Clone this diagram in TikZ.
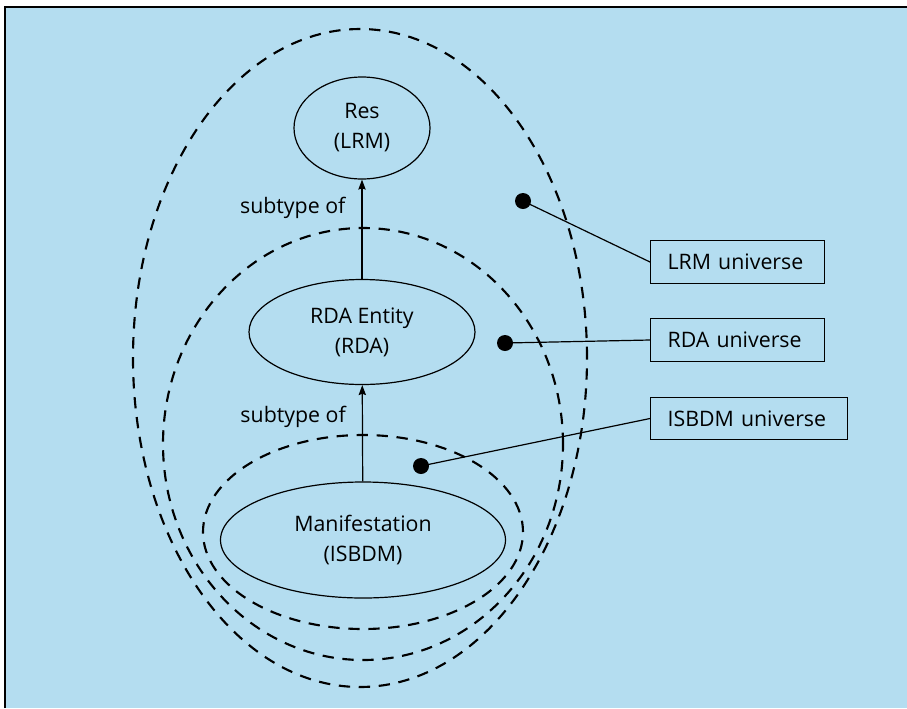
\documentclass[tikz,border=0pt]{standalone}
\usepackage{fontspec}
\setmainfont{Open Sans}
\usetikzlibrary{shapes.geometric, arrows.meta, positioning}
\definecolor{skyblue}{HTML}{B4DDF0}

\begin{document}
\begin{tikzpicture}[x=0.75pt, y=-0.75pt,
    every node/.style={font=\fontsize{16}{22.5}\selectfont},
    entity/.style={draw, ellipse, line width=0.9pt, align=center, inner sep=0pt},
    universe/.style={dash pattern=on 8.5pt off 6.5pt, line width=1.6pt},
    dot/.style={circle, fill=black, minimum size=12pt, inner sep=0pt},
    labelbox/.style={draw, rectangle, line width=0.9pt, align=left, anchor=west,
        inner xsep=12.75pt, inner ysep=0pt, minimum height=32pt},
    subtype/.style={-{Stealth[length=7.5pt, width=5.5pt, inset=1pt]}, line width=0.9pt}
]
    \useasboundingbox (0,0) rectangle (907,708);
    % Frame
    \fill[white] (0,0) rectangle (907,708);
    \fill[skyblue] (5,7) rectangle (907,708);
    \draw[line width=1.5pt] (5,708) -- (5,7) -- (907,7);

    % Universes
    \draw[universe] (360,358) ellipse [x radius=170.25pt, y radius=246.75pt];
    \draw[universe] (363,444) ellipse [x radius=150pt, y radius=162pt];
    \draw[universe] (363,532) ellipse [x radius=120pt, y radius=72.75pt];

    % Entities
    \node (res) [entity, minimum width=102pt, minimum height=76.5pt] at (362,128)
        {Res\\(LRM)};
    \node (rda) [entity, minimum width=169.5pt, minimum height=78.75pt] at (362,332)
        {RDA Entity\\(RDA)};
    \node (manif) [entity, minimum width=213.75pt, minimum height=87pt] at (363,540)
        {Manifestation\\(ISBDM)};

    % Subtype arrows
    \draw [subtype] (rda) -- node[pos=0.72, left=12pt, inner sep=0pt] {subtype of} (res);
    \draw [subtype] (manif) -- node[pos=0.67, left=12pt, inner sep=0pt] {subtype of} (rda);

    % Legend
    \node (lrmdot) [dot] at (523,201) {};
    \node (rdadot) [dot] at (505,343) {};
    \node (isbdmdot) [dot] at (421,466) {};

    \node (lrmbox) [labelbox, text width=105pt] at (650,262) {LRM universe};
    \node (rdabox) [labelbox, text width=105pt] at (650,340) {RDA universe};
    \node (isbdmbox) [labelbox, text width=122pt] at (650,418.5) {ISBDM universe};

    \draw [line width=0.9pt] (lrmdot.center) -- (lrmbox.west);
    \draw [line width=0.9pt] (rdadot.center) -- (rdabox.west);
    \draw [line width=0.9pt] (isbdmdot.center) -- (isbdmbox.west);

\end{tikzpicture}
\end{document}
